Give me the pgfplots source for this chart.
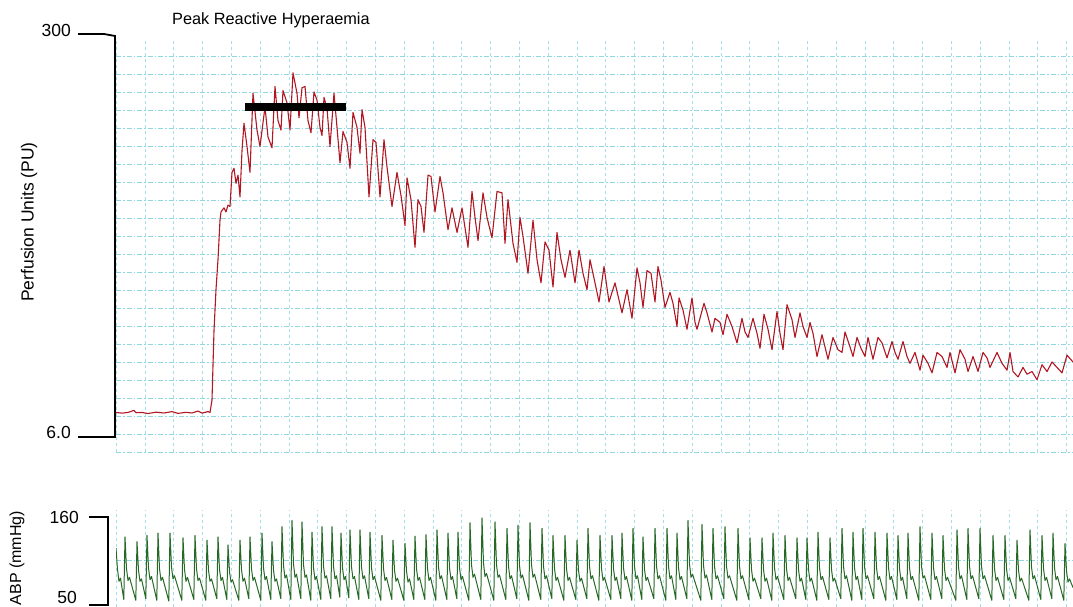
\documentclass[border=0pt]{standalone}
\usepackage{pgfplots}
\pgfplotsset{compat=1.18}
\usepackage{fontspec}
\setmainfont{Liberation Sans}
\definecolor{gridc}{RGB}{145,215,225}
\definecolor{gridv}{RGB}{165,222,230}
\definecolor{pured}{RGB}{178,22,34}
\definecolor{abpgreen}{RGB}{38,105,38}
\pgfplotsset{
  tracebase/.style={
    scale only axis, width=957pt, anchor=south west,
    xmin=116, xmax=1073,
    axis line style={draw=none}, tick style={draw=none},
    xticklabels={}, yticklabels={},
    xtick={116,144.8,...,1073},
    grid=major,
    x grid style={gridv, line width=0.6pt, dash pattern=on 3pt off 3pt},
    y grid style={gridc, line width=0.8pt, dash pattern=on 5pt off 2pt on 1.5pt off 2pt},
  }
}
\begin{document}
\begin{tikzpicture}
\begin{axis}[tracebase, at={(116pt,155pt)}, height=413pt,
  ymin=-5.0, ymax=297.8, ytick={-5,8.17,...,298}]
\addplot[pured, line width=1.1pt, line join=round] table {
116 24
122 23.5
128 24
134 25.5
136 23.8
142 24
148 23.2
156 24.2
164 23.6
172 24.6
178 23.3
186 24.1
192 23.6
198 25
202 23.5
208 24.6
210 24
212 33
214 84
216 114
218 136
220 165
221 171
224 174
226 171
228 176
230 175
232 200
234 203
236 192
238 198
240 182
242 216
244 236
247 219
250 200
253 258
257 231
260 219
265 248
268 226
272 218
275 263
278 238
281 231
283 260
287 251
290 231
293 273
297 258
299 240
302 262
305 263
308 238
311 229
314 259
317 253
320 233
322 227
324 255
327 247
330 219
334 258
337 233
340 207
343 230
347 222
350 203
353 244
357 233
360 214
362 246
365 233
369 182
373 224
376 222
380 182
384 224
387 204
392 175
397 200
401 183
405 161
407 196
411 180
415 145
418 180
421 175
424 156
428 198
431 197
435 171
440 197
443 185
448 158
452 174
457 156
462 174
468 145
472 186
475 167
478 150
483 185
487 167
492 152
497 186
502 185
505 148
508 180
513 148
517 134
520 167
523 153
528 126
533 165
537 136
541 119
545 149
549 143
553 116
557 156
561 136
565 123
570 143
575 119
579 143
583 126
587 114
590 136
595 119
599 105
604 131
609 105
615 119
622 97
627 114
632 93
637 130
640 119
643 101
647 128
651 126
655 105
658 131
661 121
665 101
670 112
673 104
677 87
679 108
683 99
687 85
692 108
695 90
697 85
704 104
707 97
712 83
715 93
720 90
723 81
727 96
732 87
737 75
742 93
745 83
748 79
753 93
757 82
760 71
764 96
768 85
772 70
777 98
780 82
783 70
787 103
792 92
795 79
800 97
803 87
807 79
810 90
813 82
817 65
822 81
825 72
828 63
833 79
838 70
842 68
845 83
850 72
853 65
857 79
861 71
865 65
868 79
873 63
878 79
882 75
887 64
892 76
895 68
898 63
903 76
907 65
910 60
915 68
920 55
923 66
928 60
932 53
937 68
942 65
947 57
950 68
955 53
960 70
965 63
968 54
973 65
978 54
983 68
987 64
990 57
997 68
1002 60
1007 55
1010 68
1013 54
1018 50
1023 57
1027 52
1032 54
1037 48
1042 59
1047 54
1052 61
1057 57
1062 53
1067 66
1073 61
};
\addplot[black, line width=7.5pt] coordinates {(245,248) (346,248)};
\end{axis}
\begin{axis}[tracebase, at={(116pt,0pt)}, height=97pt,
  ymin=47.5, ymax=170.1, ytick={106.9}]
\addplot[abpgreen, line width=1pt, line join=round] table {
116 122
117.5 95
119 80
120.5 84
123.8 57
125 136
126.5 96
128 81
129.5 85
135.8 56
137 130
138.5 94
140 80
141.5 83
145.8 58
147 138
148.5 97
150 82
151.5 86
156.8 56
158 141
159.5 96
161 81
162.5 85
168.8 55
170 141
171.5 98
173 83
174.5 87
181.8 56
183 135
184.5 95
186 80
187.5 85
193.8 57
195 138
196.5 96
198 81
199.5 84
205.8 56
207 132
208.5 94
210 80
211.5 83
216.8 58
218 136
219.5 95
221 81
222.5 85
226.8 57
228 126
229.5 92
231 79
232.5 82
238.8 56
240 132
241.5 95
243 80
244.5 84
248.8 58
250 136
251.5 96
253 81
254.5 85
260.8 56
262 141
263.5 97
265 82
266.5 86
270.8 57
272 130
273.5 94
275 80
276.5 83
280.8 58
282 149
283.5 100
285 84
286.5 88
290.8 57
292 157
293.5 102
295 85
296.5 89
300.8 58
302 155
303.5 101
305 85
306.5 88
310.8 56
312 142
313.5 97
315 82
316.5 86
320.8 57
322 149
323.5 99
325 84
326.5 87
330.8 58
332 149
333.5 99
335 83
336.5 87
339.8 60
341 141
342.5 97
344 82
345.5 86
348.8 59
350 145
351.5 98
353 83
354.5 86
358.8 57
360 145
361.5 98
363 83
364.5 87
368.8 58
370 142
371.5 97
373 82
374.5 86
380.8 56
382 138
383.5 96
385 81
386.5 85
391.8 57
393 132
394.5 94
396 80
397.5 84
403.8 56
405 128
406.5 93
408 79
409.5 83
413.8 57
415 137
416.5 96
418 81
419.5 85
424.8 57
426 139
427.5 96
429 81
430.5 85
435.8 56
437 145
438.5 98
440 83
441.5 87
446.8 57
448 141
449.5 97
451 82
452.5 86
456.8 58
458 142
459.5 97
461 82
462.5 86
468.8 56
470 154
471.5 101
473 85
474.5 89
480.8 57
482 160
483.5 103
485 86
486.5 90
493.8 56
495 155
496.5 101
498 85
499.5 88
505.8 57
507 147
508.5 99
510 83
511.5 87
516.8 58
518 151
519.5 100
521 84
522.5 88
528.8 56
530 154
531.5 101
533 85
534.5 89
540.8 57
542 147
543.5 99
545 83
546.5 87
551.8 58
553 138
554.5 96
556 81
557.5 85
563.8 56
565 138
566.5 96
568 81
569.5 85
575.8 57
577 132
578.5 94
580 80
581.5 84
586.8 58
588 147
589.5 99
591 83
592.5 87
598.8 56
600 138
601.5 96
603 81
604.5 85
610.8 57
612 138
613.5 96
615 81
616.5 85
620.8 58
622 141
623.5 97
625 82
626.5 86
631.8 56
633 147
634.5 99
636 83
637.5 87
641.8 57
643 136
644.5 95
646 81
647.5 85
653.8 58
655 147
656.5 99
658 83
659.5 87
665.8 56
667 147
668.5 99
670 83
671.5 87
675.8 57
677 141
678.5 97
680 82
681.5 86
686.8 58
688 157
689.5 102
691 85
692.5 89
700.8 56
702 152
703.5 100
705 84
706.5 88
711.8 57
713 147
714.5 99
716 83
717.5 87
723.8 58
725 149
726.5 99
728 84
729.5 87
736.8 56
738 147
739.5 99
741 83
742.5 87
748.8 57
750 135
751.5 95
753 80
754.5 84
760.8 58
762 135
763.5 95
765 80
766.5 84
771.8 56
773 141
774.5 97
776 82
777.5 86
783.8 57
785 138
786.5 96
788 81
789.5 85
795.8 58
797 135
798.5 95
800 80
801.5 84
805.8 57
807 135
808.5 95
810 80
811.5 84
816.8 56
818 142
819.5 97
821 82
822.5 86
828.8 57
830 135
831.5 95
833 80
834.5 84
840.8 58
842 147
843.5 99
845 83
846.5 87
851.8 56
853 142
854.5 97
856 82
857.5 86
861.8 57
863 147
864.5 99
866 83
867.5 87
873.8 58
875 142
876.5 97
878 82
879.5 86
885.8 56
887 141
888.5 97
890 82
891.5 86
896.8 57
898 138
899.5 96
901 81
902.5 85
906.8 58
908 141
909.5 97
911 82
912.5 86
918.8 56
920 149
921.5 99
923 84
924.5 87
930.8 57
932 141
933.5 97
935 82
936.5 86
941.8 58
943 138
944.5 96
946 81
947.5 85
955.8 56
957 145
958.5 98
960 83
961.5 87
966.8 57
968 147
969.5 99
971 83
972.5 87
978.8 58
980 147
981.5 99
983 83
984.5 87
991.8 56
993 138
994.5 96
996 81
997.5 85
1003.8 57
1005 138
1006.5 96
1008 81
1009.5 85
1015.8 58
1017 132
1018.5 94
1020 80
1021.5 84
1028.8 56
1030 145
1031.5 98
1033 83
1034.5 87
1040.8 57
1042 138
1043.5 96
1045 81
1046.5 85
1051.8 58
1053 141
1054.5 97
1056 82
1057.5 86
1063.8 56
1065 128
1066.5 93
1068 79
1069.5 83
1073 72
};
\end{axis}
% scale brackets
\draw[line width=1.8pt] (78pt,573pt) -- (104pt,573pt) -- (115pt,571pt) -- (115pt,170pt) -- (78pt,170pt);
\draw[line width=1.8pt] (89pt,90pt) -- (108pt,90pt) -- (108pt,2pt) -- (89pt,2pt);
% texts
\node[anchor=west, inner sep=0pt, font=\fontsize{16.3}{19}\selectfont] at (172pt,587pt) {Peak Reactive Hyperaemia};
\node[anchor=east, inner sep=0pt, font=\fontsize{17.5}{20}\selectfont] at (71pt,577pt) {300};
\node[anchor=east, inner sep=0pt, font=\fontsize{17.5}{20}\selectfont] at (71pt,175pt) {6.0};
\node[anchor=east, inner sep=0pt, font=\fontsize{17.5}{20}\selectfont] at (79pt,90pt) {160};
\node[anchor=east, inner sep=0pt, font=\fontsize{17.5}{20}\selectfont] at (77pt,10pt) {50};
\node[rotate=90, inner sep=0pt, font=\fontsize{17.5}{20}\selectfont] at (29pt,385pt) {Perfusion Units (PU)};
\node[rotate=90, inner sep=0pt, font=\fontsize{16}{19}\selectfont] at (17pt,49pt) {ABP (mmHg)};
\pgfresetboundingbox
\path[use as bounding box] (0,0) rectangle (1073pt,607pt);
\end{tikzpicture}
\end{document}
